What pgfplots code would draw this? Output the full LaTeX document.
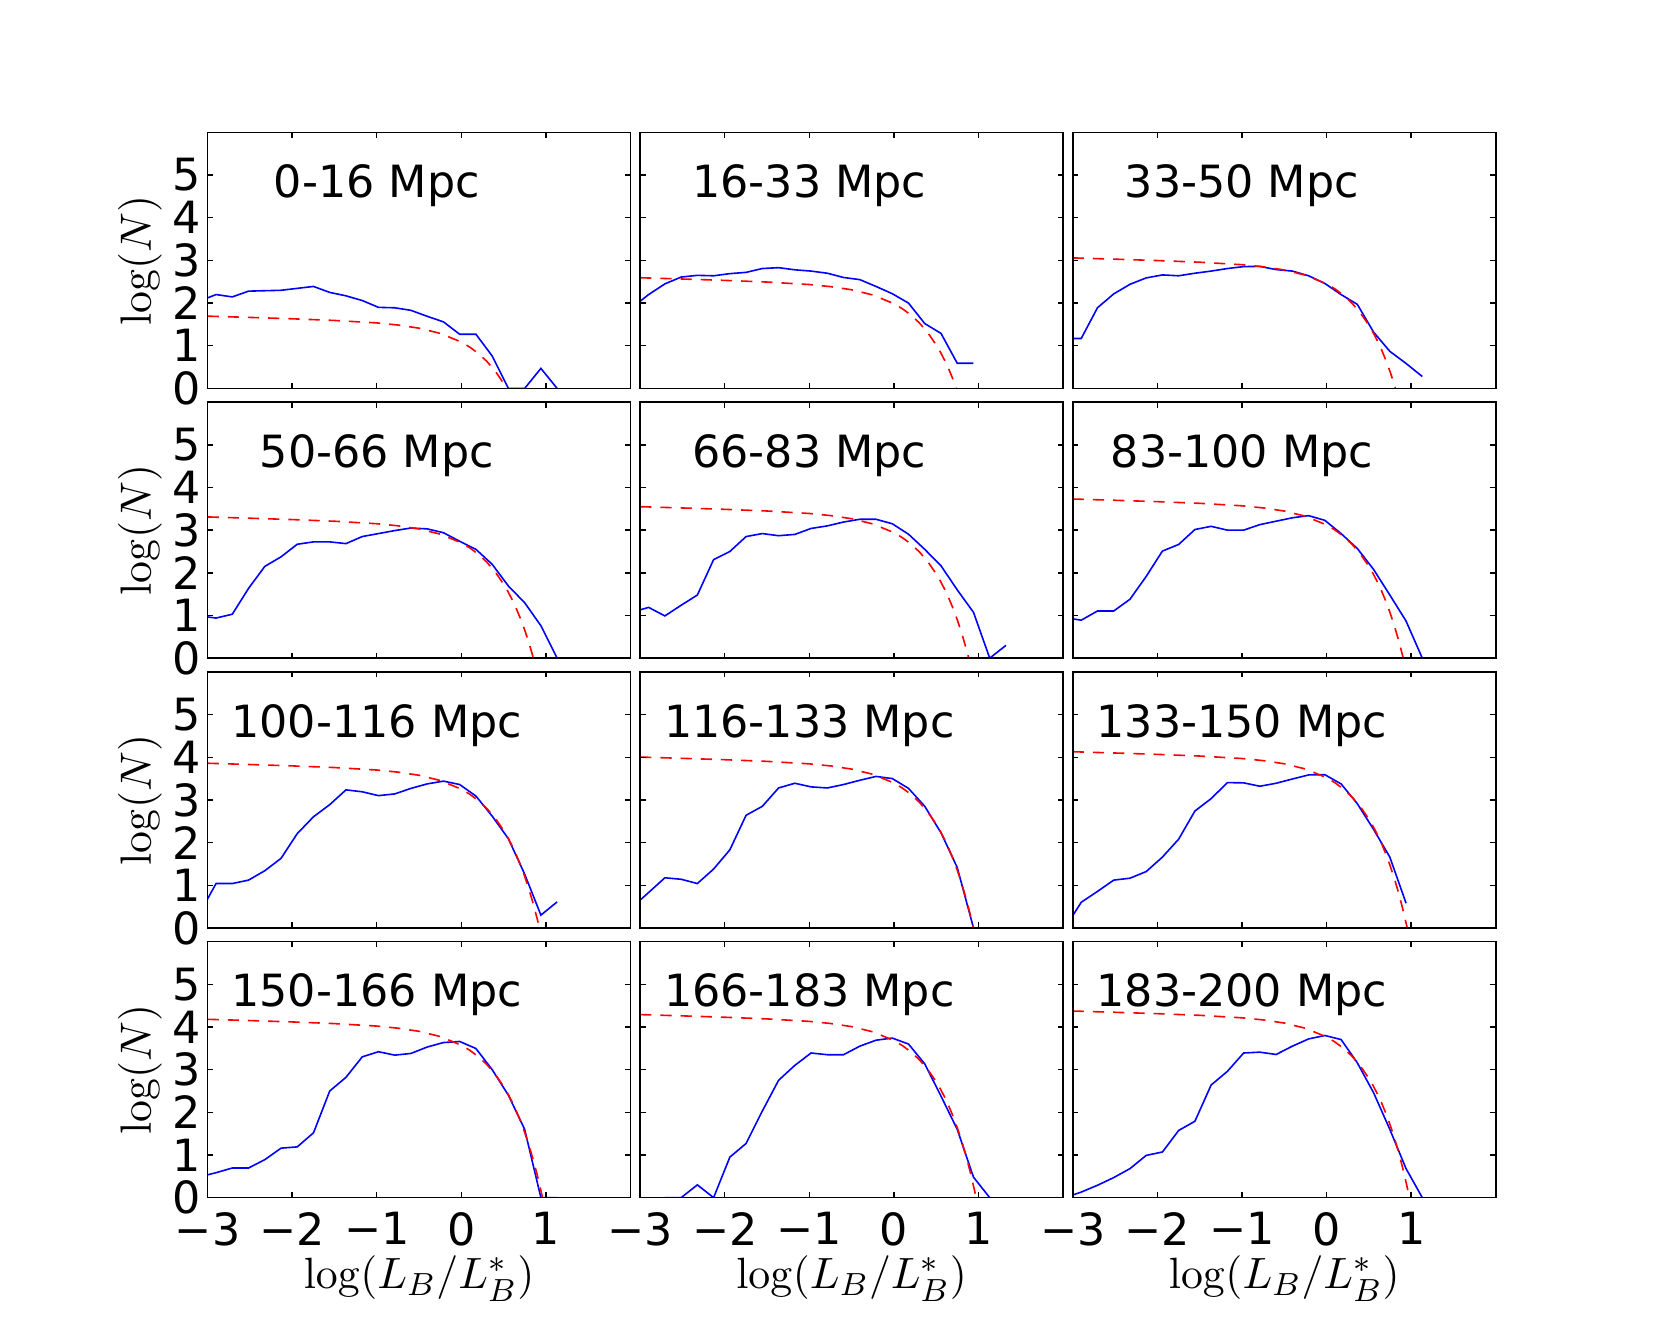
\documentclass[border=0pt]{standalone}
\usepackage[no-math]{fontspec}
\setmainfont{DejaVu Sans}
\usepackage{pgfplots}
\usepackage{pgfplotstable}
\pgfplotsset{compat=1.18}
\usepgfplotslibrary{groupplots}

\pgfplotstableread{
x      b1    b2   b3    b4    b5    b6    b7    b8    b9    b10   b11   b12
-3.092 2.05  1.90 1.17  0.99  1.08  0.95  0.35  0.49  0.0   0.49  nan   0
-2.900 2.20  2.20 1.17  0.94  1.19  0.89  1.04  0.83  0.60  0.585 nan   0.13
-2.708 2.145 2.45 1.89  1.03  0.99  1.105 1.04  1.175 0.855 0.695 0     0.29
-2.516 2.28  2.61 2.215 1.635 1.24  1.105 1.12  1.14  1.12  0.695 0     0.47
-2.324 2.29  2.65 2.44  2.15  1.48  1.38  1.34  1.04  1.165 0.89  0.30  0.68
-2.132 2.30  2.64 2.59  2.375 2.31  1.915 1.63  1.38  1.32  1.16  0     0.99
-1.940 2.345 2.69 2.66  2.67  2.50  2.51  2.21  1.83  1.66  1.19  0.95  1.07
-1.748 2.39  2.72 2.64  2.725 2.85  2.665 2.605 2.64  2.08  1.52  1.27  1.575
-1.556 2.25  2.81 2.70  2.725 2.92  3.015 2.89  2.85  2.74  2.50  2.03  1.79
-1.364 2.17  2.83 2.75  2.685 2.87  3.09  3.235 3.28  3.03  2.82  2.75  2.64
-1.172 2.06  2.78 2.81  2.85  2.90  3.00  3.19  3.39  3.405 3.30  3.10  2.96
-0.980 1.90  2.75 2.855 2.92  3.04  3.00  3.10  3.305 3.40  3.42  3.39  3.39
-0.788 1.89  2.70 2.86  2.99  3.10  3.13  3.14  3.28  3.32  3.34  3.35  3.41
-0.596 1.83  2.60 2.785 3.05  3.19  3.21  3.27  3.36  3.39  3.38  3.35  3.355
-0.404 1.69  2.55 2.75  3.03  3.255 3.29  3.375 3.46  3.49  3.53  3.55  3.55
-0.212 1.56  2.39 2.64  2.94  3.255 3.34  3.44  3.55  3.585 3.635 3.69  3.72
-0.020 1.27  2.22 2.46  2.74  3.15  3.23  3.36  3.50  3.59  3.66  3.74  3.80
0.172  1.27  2.00 2.20  2.55  2.905 2.92  3.09  3.27  3.375 3.495 3.60  3.705
0.364  0.76  1.52 1.97  2.20  2.55  2.57  2.62  2.85  2.91  3.00  3.135 3.16
0.556  0     1.29 1.32  1.69  2.165 2.08  2.09  2.23  2.31  2.40  2.38  2.46
0.748  0     0.59 0.87  1.30  1.60  1.48  1.26  1.415 1.66  1.60  1.60  1.60
0.940  0.47  0.59 0.585 0.76  1.075 0.87  0.30  0     0.58  0     0.48  0.68
1.132  0     nan  0.28  0     0     0     0.61  nan   nan   0     0     0
1.324  nan   nan  nan   nan   0.30  nan   nan   nan   nan   nan   nan   nan
}\bluedata

\pgfplotstableread{
x     r1     r2     r3     r4     r5     r6     r7     r8     r9     r10    r11    r12
-3    1.694  2.594  3.059  3.310  3.550  3.730  3.859  4.004  4.129  4.180  4.290  4.374
-2.5  1.664  2.564  3.029  3.280  3.520  3.700  3.829  3.974  4.099  4.150  4.260  4.344
-2    1.632  2.532  2.997  3.248  3.488  3.668  3.797  3.942  4.067  4.118  4.228  4.312
-1.5  1.593  2.493  2.958  3.209  3.449  3.629  3.758  3.903  4.028  4.079  4.189  4.273
-1    1.535  2.435  2.900  3.151  3.391  3.571  3.700  3.845  3.970  4.021  4.131  4.215
-0.75 1.486  2.386  2.851  3.102  3.342  3.522  3.651  3.796  3.921  3.972  4.082  4.166
-0.5  1.412  2.312  2.777  3.028  3.268  3.448  3.577  3.722  3.847  3.898  4.008  4.092
-0.25 1.290  2.190  2.655  2.906  3.146  3.326  3.455  3.600  3.725  3.776  3.886  3.970
0     1.086  1.986  2.451  2.702  2.942  3.122  3.251  3.396  3.521  3.572  3.682  3.766
0.1   0.967  1.867  2.332  2.583  2.823  3.003  3.132  3.277  3.402  3.453  3.563  3.647
0.2   0.820  1.720  2.185  2.436  2.676  2.856  2.985  3.130  3.255  3.306  3.416  3.500
0.3   0.636  1.536  2.001  2.252  2.492  2.672  2.801  2.946  3.071  3.122  3.232  3.316
0.4   0.406  1.306  1.771  2.022  2.262  2.442  2.571  2.716  2.841  2.892  3.002  3.086
0.5   0.118  1.018  1.483  1.734  1.974  2.154  2.283  2.428  2.553  2.604  2.714  2.798
0.55  -0.053 0.847  1.312  1.563  1.803  1.983  2.112  2.257  2.382  2.433  2.543  2.627
0.6   -0.244 0.656  1.121  1.372  1.612  1.792  1.921  2.066  2.191  2.242  2.352  2.436
0.65  -0.458 0.442  0.907  1.158  1.398  1.578  1.707  1.852  1.977  2.028  2.138  2.222
0.7   -0.697 0.203  0.668  0.919  1.159  1.339  1.468  1.613  1.738  1.789  1.899  1.983
0.75  -0.966 -0.066 0.399  0.650  0.890  1.070  1.199  1.344  1.469  1.520  1.630  1.714
0.8   -1.267 -0.367 0.098  0.349  0.589  0.769  0.898  1.043  1.168  1.219  1.329  1.413
0.85  -1.604 -0.704 -0.239 0.012  0.252  0.432  0.561  0.706  0.831  0.882  0.992  1.076
0.9   -1.982 -1.082 -0.617 -0.366 -0.126 0.054  0.183  0.328  0.453  0.504  0.614  0.698
0.95  -2.406 -1.506 -1.041 -0.790 -0.550 -0.370 -0.241 -0.096 0.029  0.080  0.190  0.274
1.0   -2.881 -1.981 -1.516 -1.265 -1.025 -0.845 -0.716 -0.571 -0.446 -0.395 -0.285 -0.201
}\reddata

\newcommand{\fs}{\fontsize{11.1}{13.3}\selectfont}

\pgfplotsset{
  bottomrow/.style={xticklabels={−3,−2,−1,0,1}, xlabel={$\log(L_B/L_B^*)$}},
  leftcol/.style={yticklabels={0,1,2,3,4,5}, ylabel={$\log(N)$}},
  obs/.style={blue, line width=0.4pt},
  fit/.style={red, line width=0.4pt, dash pattern=on 2.8pt off 2.25pt, restrict y to domain=-1.1:7},
}

\newcommand{\panel}[2]{%
  \addplot[obs] table[x=x, y=b#1] {\bluedata};
  \addplot[fit] table[x=x, y=r#1] {\reddata};
  \node[font=\fs, anchor=base, inner sep=0pt] at (axis cs:-1,4.47) {#2};
}

\begin{document}
\begin{tikzpicture}
\begin{groupplot}[
  group style={group size=3 by 4, horizontal sep=2.4pt, vertical sep=3.43pt},
  scale only axis, width=105.75pt, height=64pt,
  xmin=-3, xmax=2, ymin=0, ymax=6,
  xtick={-3,-2,-1,0,1}, ytick={0,1,2,3,4,5},
  xticklabels={}, yticklabels={},
  tick align=inside, major tick length=1.4pt,
  major tick style={black, line width=0.35pt},
  axis line style={line width=0.4pt},
  axis on top,
  xticklabel style={font=\fs, inner ysep=3.4pt, inner xsep=0pt},
  yticklabel style={font=\fs, inner xsep=1.5pt},
  label style={font=\fs},
  xlabel style={at={(axis description cs:0.5,-0.3555)}, anchor=base, inner sep=0pt},
  ylabel style={at={(axis description cs:-0.1064,0.5)}, anchor=south, inner sep=0pt},
]
\nextgroupplot[leftcol]
  \coordinate (tl) at (rel axis cs:0,1);
  \panel{1}{0-16 Mpc}
\nextgroupplot
  \panel{2}{16-33 Mpc}
\nextgroupplot
  \panel{3}{33-50 Mpc}
\nextgroupplot[leftcol]
  \panel{4}{50-66 Mpc}
\nextgroupplot
  \panel{5}{66-83 Mpc}
\nextgroupplot
  \panel{6}{83-100 Mpc}
\nextgroupplot[leftcol]
  \panel{7}{100-116 Mpc}
\nextgroupplot
  \panel{8}{116-133 Mpc}
\nextgroupplot
  \panel{9}{133-150 Mpc}
\nextgroupplot[leftcol, bottomrow]
  \panel{10}{150-166 Mpc}
\nextgroupplot[bottomrow]
  \panel{11}{166-183 Mpc}
\nextgroupplot[bottomrow]
  \panel{12}{183-200 Mpc}
\end{groupplot}
\path (tl) ++(-51.9pt,33.1pt) rectangle ++(415.25pt,-332.75pt);
\end{tikzpicture}
\end{document}
